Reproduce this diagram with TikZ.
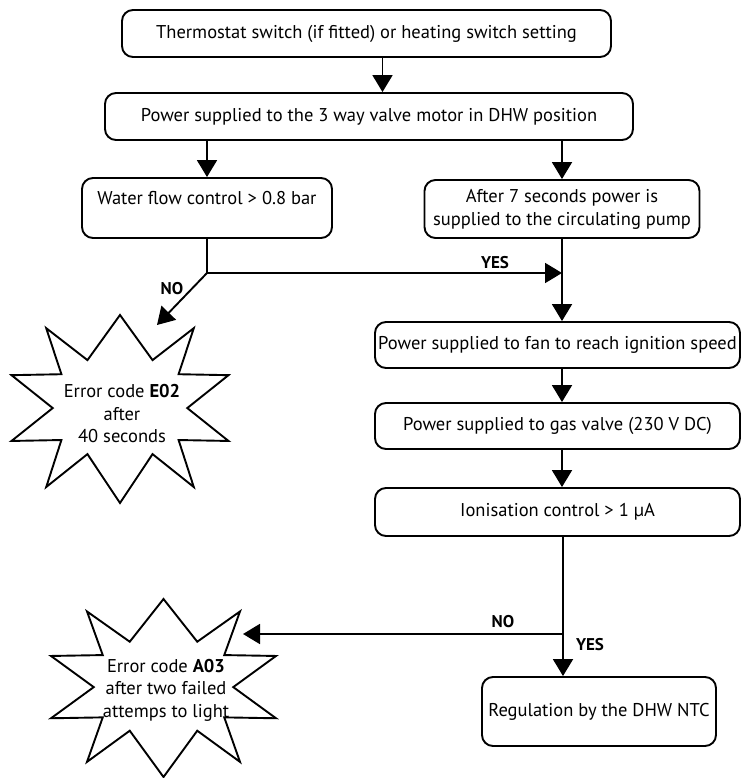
\documentclass[tikz,border=0pt]{standalone}
\usepackage{fontspec}
\setmainfont{PT Sans}
\usetikzlibrary{arrows.meta}

\begin{document}
\begin{tikzpicture}[
    x=1pt, y=-1pt,
    >={Triangle[length=17pt,width=20pt]},
    line width=1.9pt,
    box/.style={draw, rounded corners=11pt, align=center, inner sep=0pt,
        font=\fontsize{18.5}{23}\selectfont},
    burst/.style={align=center, font=\fontsize{18.5}{22.5}\selectfont},
    answer/.style={font=\fontsize{17}{19}\selectfont\bfseries},
    starline/.pic={
        \draw (0,1) -- (0.3,0.52) -- (0.68,0.86) -- (0.54,0.37) -- (1,0.36)
            -- (0.62,0.01) -- (1,-0.34) -- (0.54,-0.33) -- (0.68,-0.83)
            -- (0.3,-0.48) -- (0,-1) -- (-0.3,-0.48) -- (-0.68,-0.83)
            -- (-0.54,-0.33) -- (-1,-0.34) -- (-0.62,0.01) -- (-1,0.36)
            -- (-0.54,0.37) -- (-0.68,0.86) -- (-0.3,0.52) -- cycle;
    }
]
\useasboundingbox (0,0) rectangle (741,778);

% Boxes
\node[box, minimum width=489pt, minimum height=47pt] (therm) at (366.5,33.5)
    {Thermostat switch (if fitted) or heating switch setting};
\node[box, minimum width=528pt, minimum height=47pt] (valve) at (369,116.5)
    {Power supplied to the 3 way valve motor in DHW position};
\node[box, minimum width=250pt, minimum height=60pt, text height=13pt, text depth=21pt] (water) at (207,208)
    {Water flow control > 0.8 bar};
\node[box, minimum width=275pt, minimum height=58pt] (pump) at (562,209)
    {After 7 seconds power is\\supplied to the circulating pump};
\node[box, minimum width=365pt, minimum height=46pt] (fan) at (557.5,345)
    {Power supplied to fan to reach ignition speed};
\node[box, minimum width=365pt, minimum height=46pt] (gas) at (557.5,426)
    {Power supplied to gas valve (230 V DC)};
\node[box, minimum width=365pt, minimum height=48pt] (ion) at (557.5,512)
    {Ionisation control > 1 µA};
\node[box, minimum width=234pt, minimum height=69pt] (reg) at (599,711.5)
    {Regulation by the DHW NTC};

% Error bursts
\node[burst] (e02) at (122,414) {Error code \textbf{E02}\\after\\40 seconds};
\node[burst] (a03) at (166,690) {Error code \textbf{A03}\\after two failed\\attemps to light};
\coordinate (e02c) at (120,409);
\coordinate (a03c) at (163.5,688);
\pic[x=108.5pt, y=94pt] at (e02c) {starline};
\pic[x=112.5pt, y=89pt] at (a03c) {starline};

% Junctions and arrow ends
\coordinate (j1) at (207,273);
\coordinate (j2) at (563,634);
\coordinate (e02tip) at (157,325);
\coordinate (a03tip) at (243,634);

% Arrows
\draw[->] ([xshift=16pt]therm.south) -- ([xshift=16pt]therm.south |- valve.north);
\draw[->] (water.north |- valve.south) -- (water.north);
\draw[->] (pump.north |- valve.south) -- (pump.north);
\draw[->] (water.south) -- (j1) -- (j1 -| pump.south);
\draw[->] (j1) -- (e02tip);
\draw[->] (pump.south) -- (pump.south |- fan.north);
\draw[->] (pump.south |- fan.south) -- (pump.south |- gas.north);
\draw[->] (pump.south |- gas.south) -- (pump.south |- ion.north);
\draw[->] (j2 |- ion.south) -- (j2 |- reg.north);
\draw[->] (j2) -- (a03tip);

% Labels
\node[answer] (yes1) at (495,263) {YES};
\node[answer] (no1) at (172,289) {NO};
\node[answer] (no2) at (503,622) {NO};
\node[answer] (yes2) at (590,645) {YES};

\end{tikzpicture}
\end{document}
